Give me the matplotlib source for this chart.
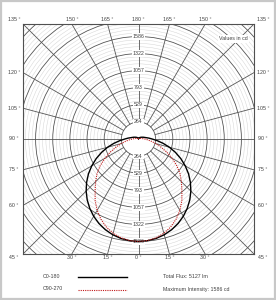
import numpy as np
import matplotlib.pyplot as plt
from matplotlib.patches import Circle, Rectangle

plt.rcParams['font.family'] = ['Liberation Sans', 'DejaVu Sans']

# luminous intensity (cd) against gamma angle, 0 = straight down
gamma = [0, 5, 10, 15, 20, 25, 30, 35, 40, 45, 50, 55, 60, 65, 70, 75, 80, 85,
         90, 95, 100, 110, 120, 135, 150, 165, 180]
c0_180 = [1586, 1580, 1563, 1534, 1494, 1443, 1381, 1310, 1230, 1141, 1044, 942,
          832, 720, 606, 493, 385, 288, 210, 160, 120, 80, 55, 35, 20, 10, 5]
c90_270 = [1586, 1578, 1553, 1510, 1450, 1370, 1275, 1165, 1040, 935, 835, 720,
           600, 480, 370, 280, 200, 140, 95, 65, 45, 30, 20, 12, 8, 5, 5]
ring_labels = ["264", "529", "793", "1057", "1322", "1586"]
max_intensity = 1586
total_flux = 5127

W, H = 276, 300
fig = plt.figure(figsize=(W / 100, H / 100), dpi=100)
fig.patches.append(Rectangle((0.004, 0.004), 0.992, 0.992, transform=fig.transFigure,
                             fill=False, ec='#c8c8c8', lw=1.6))

ax = fig.add_axes([23 / W, 46 / H, 231 / W, 230 / H])
L = 1780
px = L / 115.5  # data units per pixel
ax.set_xticks([])
ax.set_yticks([])
for sp in ax.spines.values():
    sp.set_color('#505050')
    sp.set_linewidth(0.8)

grid_c = '#555555'
step = max_intensity / 6
minor = step / 5
r = step
k = 0
while r < 2 * L:
    major = k % 5 == 0
    ax.add_patch(Circle((0, 0), r, fill=False,
                        ec=grid_c if major else '#d4d4d4',
                        lw=0.6 if major else 0.35, zorder=2 if major else 1))
    k += 1
    r = step + k * minor

for a in range(0, 360, 15):
    t = np.radians(a)
    dx, dy = np.sin(t), -np.cos(t)
    ax.plot([step * dx, 3000 * dx], [step * dy, 3000 * dy], color=grid_c, lw=0.6, zorder=2)

for i, lab in enumerate(ring_labels):
    rr = (i + 1) * step
    for sgn in (1, -1):
        ax.text(0, sgn * rr, lab, ha='center', va='center', fontsize=3.8, color='#404040',
                zorder=3, bbox=dict(boxstyle='square,pad=0.15', fc='white', ec='none'))

ax.text(0.95 * L, 0.87 * L, "Values in cd", ha='right', va='center', fontsize=3.8,
        color='#404040', zorder=3,
        bbox=dict(boxstyle='square,pad=0.2', fc='white', ec='none'))

# angle labels round the frame
for a in range(0, 181, 15):
    for s in (-1, 1):
        if s == 1 and a in (0, 180):
            continue
        t = np.radians(a)
        dx, dy = s * np.sin(t), -np.cos(t)
        f = L / max(abs(dx), abs(dy))
        x, y = f * dx, f * dy
        if abs(abs(dx) - abs(dy)) < 1e-6:
            x = np.sign(dx) * (L + 9 * px)
            y = (L + 4.5 * px) if dy > 0 else -(L + 3.5 * px)
        elif abs(dy) > abs(dx):
            y = (L + 4.5 * px) if dy > 0 else -(L + 3.5 * px)
        else:
            x = np.sign(dx) * (L + 9 * px)
        ax.text(x, y, f"{a} °", ha='center', va='center', fontsize=3.8,
                color='#404040', clip_on=False)

g = np.radians(gamma)
c0 = np.array(c0_180)
c90 = np.array(c90_270)
ax.plot(np.concatenate([-c0[::-1] * np.sin(g[::-1]), c0 * np.sin(g)]),
        np.concatenate([-c0[::-1] * np.cos(g[::-1]), -c0 * np.cos(g)]),
        color='black', lw=1.0, zorder=5)
ax.plot(np.concatenate([-c90[::-1] * np.sin(g[::-1]), c90 * np.sin(g)]),
        np.concatenate([-c90[::-1] * np.cos(g[::-1]), -c90 * np.cos(g)]),
        color='#c01818', lw=0.8, ls=(0, (1, 1)), zorder=6)

ax.set_xlim(-L, L)
ax.set_ylim(-L, L)

# legend and figures below the chart
fig.text(43 / W, 1 - 276 / H, "C0-180", fontsize=3.8, color='#404040', va='center')
fig.text(43 / W, 1 - 289 / H, "C90-270", fontsize=3.8, color='#404040', va='center')
fig.add_artist(plt.Line2D([78 / W, 127 / W], [1 - 277 / H, 1 - 277 / H], color='black', lw=1.0))
fig.add_artist(plt.Line2D([78 / W, 127 / W], [1 - 290 / H, 1 - 290 / H], color='#c01818',
                          lw=0.8, ls=(0, (1, 1))))
fig.text(163 / W, 1 - 276 / H, f"Total Flux: {total_flux} lm", fontsize=3.8,
         color='#404040', va='center')
fig.text(163 / W, 1 - 289 / H, f"Maximum Intensity: {max_intensity} cd", fontsize=3.8,
         color='#404040', va='center')

fig.savefig("out.png", dpi=100, facecolor='white')
